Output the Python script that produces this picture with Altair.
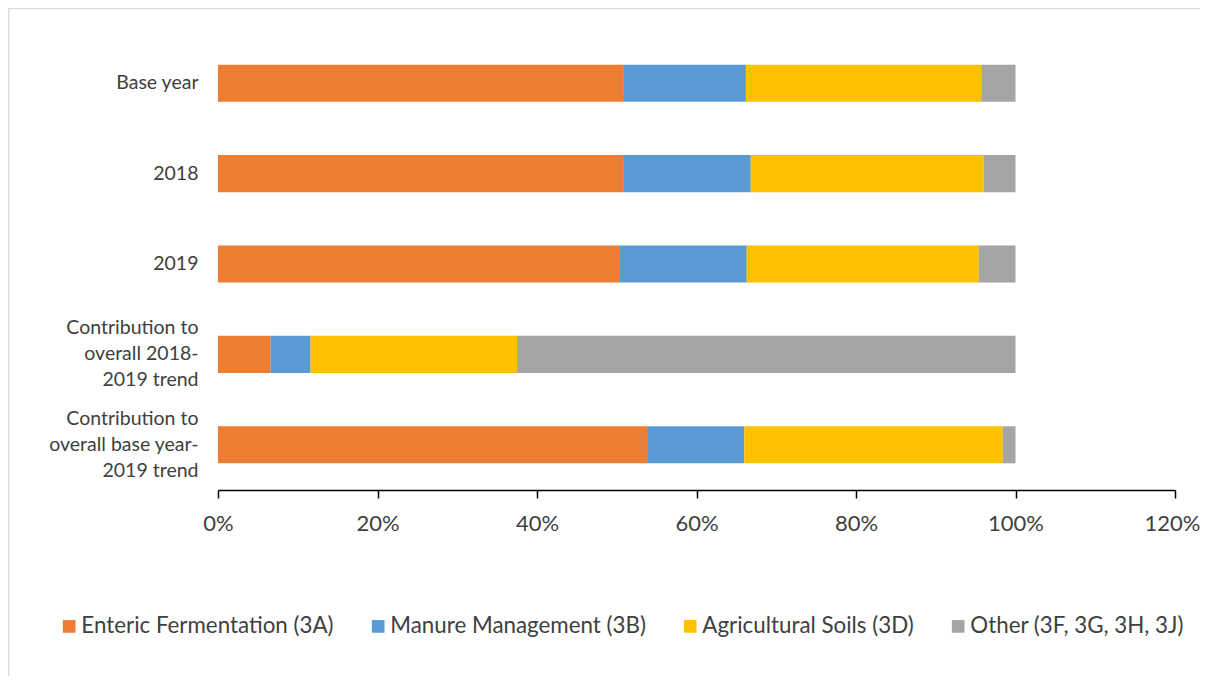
import altair as alt
import pandas as pd

categories = [
    "Base year",
    "2018",
    "2019",
    "Contribution to|overall 2018-|2019 trend",
    "Contribution to|overall base year-|2019 trend",
]
series = [
    "Enteric Fermentation (3A)",
    "Manure Management (3B)",
    "Agricultural Soils (3D)",
    "Other (3F, 3G, 3H, 3J)",
]
colors = ["#ED7D31", "#5B9BD5", "#FFC000", "#A5A5A5"]

enteric = [50.8, 50.8, 50.3, 6.6, 53.8]
manure = [15.4, 16.0, 16.0, 5.0, 12.2]
soils = [29.5, 29.2, 29.1, 25.9, 32.4]
other = [4.3, 4.0, 4.6, 62.5, 1.6]

x_ticks = [0, 0.2, 0.4, 0.6, 0.8, 1.0, 1.2]

rows = []
for si, (name, vals) in enumerate(zip(series, [enteric, manure, soils, other])):
    for c, v in zip(categories, vals):
        rows.append({"category": c, "series": name, "order": si, "value": v / 100.0})
df = pd.DataFrame(rows)

FONT = "Lato"
TEXT = "#404040"
BORDER = "#D9D9D9"

bars = alt.Chart(df).mark_bar().encode(
    y=alt.Y(
        "category:N",
        sort=categories,
        scale=alt.Scale(paddingInner=0.59, paddingOuter=0.295),
        axis=alt.Axis(
            title=None,
            ticks=False,
            domain=False,
            labelExpr="split(datum.label, '|')",
            labelFont=FONT,
            labelFontSize=19.5,
            labelColor=TEXT,
            labelPadding=20,
            labelLineHeight=26,
            labelLimit=300,
            labelOffset=alt.condition(
                "indexof(datum.value, '|') >= 0", alt.value(-26), alt.value(0)
            ),
        ),
    ),
    x=alt.X(
        "value:Q",
        stack="zero",
        scale=alt.Scale(domain=[0, 1.2], nice=False),
        axis=alt.Axis(
            title=None,
            values=x_ticks,
            format=".0%",
            grid=False,
            domainColor="#000000",
            domainWidth=1.5,
            tickColor="#000000",
            tickWidth=1.5,
            tickSize=8,
            labelFont=FONT,
            labelFontSize=22,
            labelColor=TEXT,
            labelPadding=15,
            labelFlush=False,
            labelOffset=alt.condition(
                "datum.value >= 1.19", alt.value(-3), alt.value(0)
            ),
        ),
    ),
    color=alt.Color(
        "series:N",
        sort=series,
        scale=alt.Scale(domain=series, range=colors),
        legend=alt.Legend(
            title=None,
            orient="none",
            direction="horizontal",
            legendX=-160,
            legendY=577,
            symbolType="square",
            symbolSize=160,
            symbolStrokeWidth=0,
            labelFont=FONT,
            labelFontSize=22.35,
            labelColor=TEXT,
            labelOffset=1,
            columnPadding=33,
            labelLimit=400,
        ),
    ),
    order=alt.Order("order:Q"),
)

edge = alt.Data(values=[{"a": 1}])
top_line = alt.Chart(edge).mark_rule(color=BORDER, strokeWidth=1.5).encode(
    x=alt.value(-209.5), x2=alt.value(990), y=alt.value(-29.5)
)
left_line = alt.Chart(edge).mark_rule(color=BORDER, strokeWidth=1.5).encode(
    x=alt.value(-209.5), y=alt.value(-29.5), y2=alt.value(700)
)

chart = alt.layer(top_line, left_line, bars).properties(
    width=957,
    height=452,
    padding={"left": 210, "top": 30, "right": 25, "bottom": 186},
    autosize=alt.AutoSizeParams(type="none"),
).configure_view(stroke=None)

chart.save("out.html", embed_options={"renderer": "svg", "actions": False})
